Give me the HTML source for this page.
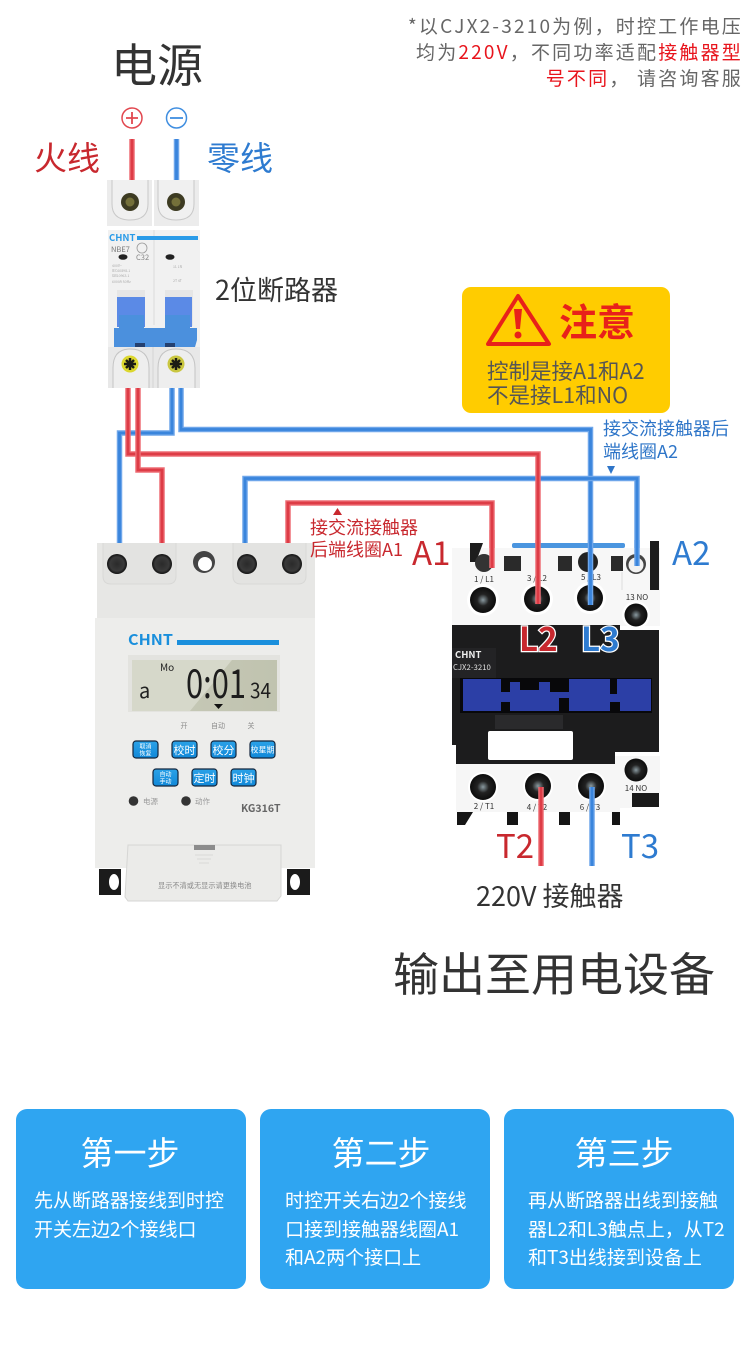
<!DOCTYPE html>
<html><head><meta charset="utf-8">
<style>
html,body{margin:0;padding:0;background:#fff;width:750px;height:1345px;overflow:hidden}
svg{display:block}
text{font-family:"Noto Sans CJK SC","Liberation Sans",sans-serif}
.w{fill:none;stroke-linejoin:miter}
.bo{stroke:#6ea6ea;stroke-width:5.500}
.bi{stroke:#3a85dc;stroke-width:2.800}
.ro{stroke:#ee6f76;stroke-width:5.500}
.ri{stroke:#dd3c46;stroke-width:2.800}
</style></head><body>
<svg width="750" height="1345" viewBox="0 0 750 1345" xmlns="http://www.w3.org/2000/svg">
<defs>
<radialGradient id="sc"><stop offset="0" stop-color="#2a2a2a"/><stop offset=".7" stop-color="#3a3a3a"/><stop offset="1" stop-color="#111"/></radialGradient>
<radialGradient id="cs"><stop offset="0" stop-color="#8a9aa0"/><stop offset=".45" stop-color="#222"/><stop offset="1" stop-color="#0c0c0c"/></radialGradient>
<linearGradient id="lcd" x1="0" y1="0" x2="1" y2="0"><stop offset="0" stop-color="#c8cab9"/><stop offset="1" stop-color="#c0c3af"/></linearGradient>
<linearGradient id="bn" x1="0" y1="0" x2="0" y2="1"><stop offset="0" stop-color="#2ba2e8"/><stop offset="1" stop-color="#1188d8"/></linearGradient>
</defs>

<!-- top note -->
<g font-size="19" fill="#666" text-anchor="end" letter-spacing="2.200">
<text x="743" y="33">*以CJX2-3210为例，时控工作电压</text>
<text x="743" y="59">均为<tspan fill="#e8141c">220V</tspan>，不同功率适配<tspan fill="#e8141c">接触器型</tspan></text>
<text x="743" y="85"><tspan fill="#e8141c">号不同</tspan>， 请咨询客服</text>
</g>

<!-- power labels -->
<text x="111" y="82" font-size="46" fill="#333">电源</text>
<text x="34" y="170" font-size="33" fill="#c8282e">火线</text>
<text x="207" y="170" font-size="33" fill="#2e7bd0">零线</text>
<circle cx="132" cy="118" r="10" fill="none" stroke="#e2474f" stroke-width="1.500"/>
<path d="M126 118h12M132 112v12" stroke="#e2474f" stroke-width="1.800"/>
<circle cx="176.500" cy="118" r="10" fill="none" stroke="#3f8ee0" stroke-width="1.500"/>
<path d="M170 118h13" stroke="#3f8ee0" stroke-width="1.800"/>
<path d="M132 139V182" class="w ro"/><path d="M132 139V182" class="w ri"/>
<path d="M176.500 139V182" class="w bo"/><path d="M176.500 139V182" class="w bi"/>

<!-- wires behind devices -->
<g>
<path d="M172 385V433H119.500V548" class="w bo"/><path d="M172 385V433H119.500V548" class="w bi"/>
<path d="M181 385V429.500H590.500V605" class="w bo"/><path d="M181 385V429.500H590.500V605" class="w bi"/>
<path d="M245 548V478.500H637V566" class="w bo"/><path d="M245 548V478.500H637V566" class="w bi"/>
<path d="M128 385V454H538V604" class="w ro"/><path d="M128 385V454H538V604" class="w ri"/>
<path d="M138 385V470H162V548" class="w ro"/><path d="M138 385V470H162V548" class="w ri"/>
<path d="M288 548V503H492V548" class="w ro"/><path d="M288 548V503H492V548" class="w ri"/>
</g>

<!-- breaker -->
<rect x="107" y="180" width="92" height="46" fill="#ececec"/>
<path d="M153 180V226" stroke="#fff" stroke-width="2"/>
<path d="M112 180V204Q112 220 130 220Q148 220 148 204V180M158 180V204Q158 220 176 220Q194 220 194 204V180" fill="#f0f0f0" stroke="#c8c8c8"/>
<circle cx="130" cy="202" r="9" fill="#3d3b22"/><circle cx="176" cy="202" r="9" fill="#3d3b22"/>
<circle cx="130" cy="202" r="4.500" fill="#74703a"/><circle cx="176" cy="202" r="4.500" fill="#74703a"/>
<rect x="108" y="230" width="92" height="118" fill="#f1f1f1"/>
<path d="M154 230V325" stroke="#dcdcdc"/>
<text x="109" y="241" font-size="9.500" font-weight="bold" fill="#2a9be8" font-family="Liberation Sans">CHNT</text>
<rect x="137" y="236" width="61" height="4" fill="#2a9be8"/>
<text x="111" y="252" font-size="7.500" fill="#777">NBE7</text>
<text x="136" y="260" font-size="7.500" fill="#888">C32</text>
<circle cx="142" cy="248" r="5" fill="none" stroke="#999" stroke-width=".8"/>
<ellipse cx="123" cy="257" rx="4.500" ry="2.800" fill="#222"/><ellipse cx="170" cy="257" rx="4.500" ry="2.800" fill="#222"/>
<g fill="#aaa" font-size="3.500"><text x="112" y="267">400V~</text><text x="112" y="272">IEC60898-1</text><text x="112" y="277">GB10963.1</text><text x="112" y="283">6000A 50Hz</text><text x="173" y="268">1L 1N</text><text x="173" y="282">2T 4T</text></g>
<rect x="117" y="290" width="28" height="36" fill="#e6e6e6"/><rect x="165" y="290" width="28" height="36" fill="#e6e6e6"/>
<rect x="117" y="297" width="28" height="30" fill="#5b8ae6"/><rect x="165" y="297" width="27" height="30" fill="#5b8ae6"/>
<path d="M114 347V328H119V315H144V328H165V315H190V328H197V340L195 347Z" fill="#4b90dd"/>
<rect x="135" y="343" width="10" height="5" fill="#24406f"/><rect x="165" y="343" width="10" height="5" fill="#24406f"/>
<rect x="108" y="347" width="92" height="41" fill="#e8e8e8"/>
<path d="M153 347V388" stroke="#d4d4d4"/>
<path d="M113 388V368Q113 349 130 349Q149 349 149 368V388M158 388V368Q158 349 176 349Q195 349 195 368V388" fill="#eeeeee" stroke="#c4c4c4"/>
<circle cx="130" cy="364" r="8.500" fill="#dcd72e"/><circle cx="176" cy="364" r="8.500" fill="#c9c640"/>
<path d="M124 364h12M130 358v12M126 360l8 8M134 360l-8 8" stroke="#1c1c14" stroke-width="2.500"/>
<path d="M170 364h12M176 358v12M172 360l8 8M180 360l-8 8" stroke="#1c1c14" stroke-width="2.500"/>
<text x="215" y="300" font-size="27" fill="#333">2位断路器</text>

<!-- warning -->
<rect x="462" y="287" width="208" height="126" rx="9" fill="#ffcc00"/>
<path d="M518 296L549 344H488Z" fill="none" stroke="#e8211a" stroke-width="4" stroke-linejoin="round"/>
<path d="M514 309h8l-2 20h-4Z" fill="#e8211a"/><circle cx="518" cy="335" r="3.500" fill="#e8211a"/>
<text x="559" y="336" font-size="38" font-weight="bold" fill="#e8211a">注意</text>
<g font-size="21.500" fill="#555"><text x="487" y="379">控制是接A1和A2</text><text x="487" y="403">不是接L1和NO</text></g>

<!-- timer -->
<path d="M99 869h22v26h-22zM287 869h23v26h-23z" fill="#1b1b1b"/>
<ellipse cx="114" cy="882" rx="5" ry="8" fill="#fff"/><ellipse cx="295" cy="882" rx="5" ry="8" fill="#fff"/>
<rect x="97" y="543" width="218" height="76" fill="#e7e7e5"/>
<rect x="95" y="618" width="220" height="250" fill="#ededeb"/>
<path d="M103 543V576Q103 584 111 584H168Q176 584 176 576V543M233 543V576Q233 584 241 584H298Q306 584 306 576V543" fill="#e3e3e1" stroke="#d8d8d6"/>
<circle cx="117" cy="564" r="10" fill="url(#sc)"/><circle cx="162" cy="564" r="10" fill="url(#sc)"/>
<circle cx="247" cy="564" r="10" fill="url(#sc)"/><circle cx="292" cy="564" r="10" fill="url(#sc)"/>
<circle cx="204" cy="562" r="11" fill="#444"/><circle cx="205" cy="564" r="7" fill="#fff"/>
<text x="128" y="645" font-size="15" font-weight="bold" fill="#1a8fdc" textLength="45" lengthAdjust="spacingAndGlyphs" font-family="Liberation Sans">CHNT</text>
<rect x="177" y="640" width="102" height="5" fill="#1a8fdc"/>
<rect x="128" y="655" width="152" height="57" fill="#e3e3df"/>
<rect x="132" y="660" width="145" height="51" fill="url(#lcd)"/>
<path d="M132 660H232L190 711H132Z" fill="#d6d8ca"/>
<text x="160" y="671" font-size="10" fill="#222">Mo</text>
<text x="139" y="698" font-size="20" fill="#222" font-family="Liberation Mono">a</text>
<text x="186" y="698" font-size="40" fill="#1d1d1d" font-family="Liberation Mono" textLength="60" lengthAdjust="spacingAndGlyphs">0:01</text>
<text x="250" y="698" font-size="21" fill="#1d1d1d" font-family="Liberation Mono" textLength="21" lengthAdjust="spacingAndGlyphs">34</text>
<path d="M214 704h9l-4.500 5Z" fill="#111"/>
<g font-size="7" fill="#8a8a8a" text-anchor="middle"><text x="184" y="728">开</text><text x="218" y="728">自动</text><text x="251" y="728">关</text></g>
<g fill="url(#bn)" stroke="#14263c" stroke-width="1.200">
<rect x="133" y="741" width="25" height="17" rx="3"/><rect x="172" y="741" width="25" height="17" rx="3"/><rect x="211" y="741" width="25" height="17" rx="3"/><rect x="250" y="741" width="25" height="17" rx="3"/>
<rect x="153" y="769" width="25" height="17" rx="3"/><rect x="192" y="769" width="25" height="17" rx="3"/><rect x="231" y="769" width="25" height="17" rx="3"/>
</g>
<g fill="#fff" text-anchor="middle" font-size="11">
<text x="184.500" y="754">校时</text><text x="223.500" y="754">校分</text><text x="262.500" y="752.500" font-size="8">校星期</text>
<text x="204.500" y="782">定时</text><text x="243.500" y="782">时钟</text>
<text x="145.500" y="748.500" font-size="6">取消</text><text x="145.500" y="755.500" font-size="6">恢复</text>
<text x="165.500" y="776.500" font-size="6">自动</text><text x="165.500" y="783.500" font-size="6">手动</text>
</g>
<circle cx="133.500" cy="801" r="4.800" fill="#333"/><circle cx="186" cy="801" r="4.800" fill="#333"/>
<g font-size="7.500" fill="#999"><text x="143" y="804">电源</text><text x="195" y="804">动作</text></g>
<text x="241" y="812" font-size="10.500" font-weight="bold" fill="#666" font-family="Liberation Sans">KG316T</text>
<path d="M128 845H281V896L277 901H128L125 897Z" fill="#ebebe9" stroke="#d6d6d4"/>
<rect x="194" y="845" width="21" height="5" fill="#8c8c8c"/>
<path d="M195 855h18M197 859h14M199 863h10" stroke="#d8d8d6"/>
<text x="158" y="888" font-size="7.200" fill="#8a8a8a">显示不清或无显示请更换电池</text>

<!-- annotations (over the timer) -->
<g font-size="18" fill="#2e75c8"><text x="603" y="435">接交流接触器后</text><text x="603" y="458">端线圈A2</text></g>
<path d="M607 466h8l-4 8Z" fill="#2e75c8"/>
<g font-size="18" fill="#c8282e"><text x="310" y="534">接交流接触器</text><text x="310" y="556">后端线圈A1</text></g>
<path d="M333 515h9l-4.500-7Z" fill="#c8282e"/>
<text x="412" y="565" font-size="33" fill="#c8282e">A1</text>
<text x="672" y="565" font-size="33" fill="#2e7bd0">A2</text>

<!-- contactor -->
<rect x="512" y="543" width="113" height="5" rx="2" fill="#4a95df"/>
<rect x="452" y="548" width="208" height="78" fill="#f7f7f7"/>
<path d="M470 543H483L476 562H470Z" fill="#1d1d1d"/>
<path d="M650 541H659V590H650Z" fill="#1d1d1d"/>
<rect x="504" y="556" width="17" height="15" fill="#2a2a2a"/><rect x="558" y="556" width="14" height="15" fill="#2a2a2a"/><rect x="611" y="556" width="12" height="15" fill="#2a2a2a"/>
<circle cx="484" cy="563" r="9" fill="#333"/><circle cx="588" cy="562" r="10" fill="#222"/><circle cx="636" cy="564" r="10" fill="#444"/><circle cx="636" cy="565" r="7.500" fill="#f2f2f2"/>
<path d="M622 572V590" stroke="#ddd"/>
<g font-size="8" fill="#333" text-anchor="middle">
<text x="484" y="582">1 / L1</text><text x="537" y="581">3 / L2</text><text x="591" y="580">5 / L3</text><text x="637" y="600" font-size="8">13 NO</text></g>
<circle cx="483" cy="600" r="16" fill="#fff"/><circle cx="537" cy="599" r="16" fill="#fff"/><circle cx="590" cy="598" r="16" fill="#fff"/><circle cx="636" cy="615" r="14" fill="#fff"/>
<circle cx="483" cy="600" r="13" fill="url(#cs)"/><circle cx="537" cy="599" r="13" fill="url(#cs)"/><circle cx="590" cy="598" r="13" fill="url(#cs)"/><circle cx="636" cy="615" r="11.500" fill="url(#cs)"/>
<path d="M452 625H620V630H659V752H615V765H456V745H452Z" fill="#1c1c1d"/>
<rect x="452" y="648" width="44" height="30" fill="#232325"/>
<rect x="460" y="678" width="192" height="35" fill="#08080a"/>
<rect x="463" y="679" width="38" height="32" fill="#2c3fa6"/>
<path d="M500 692H510V682H520V690H539V682H550V692H569V679H610V694H617V679H651V711H620V702H610V711H569V698H559V711H510V702H500Z" fill="#2c3fa6"/>
<rect x="495" y="715" width="68" height="14" fill="#2a2a2c"/>
<rect x="488" y="731" width="85" height="29" rx="2" fill="#fff"/>
<text x="455" y="658" font-size="9.500" font-weight="bold" fill="#eee" font-family="Liberation Sans">CHNT</text>
<text x="453" y="670" font-size="7.800" fill="#ddd" font-family="Liberation Sans">CJX2-3210</text>
<path d="M456 764H615V756H660V793H632V808H620V812H456Z" fill="#f6f6f6"/>
<path d="M457 812H473L465 825H457ZM507 812H518V825H507ZM559 812H570V825H559ZM612 812H620V825H612Z" fill="#151515"/>
<rect x="632" y="793" width="27" height="14" fill="#1a1a1a"/>
<circle cx="483" cy="787" r="15" fill="#fff"/><circle cx="538" cy="786" r="15" fill="#fff"/><circle cx="591" cy="786" r="15" fill="#fff"/>
<circle cx="483" cy="787" r="13" fill="url(#cs)"/><circle cx="538" cy="786" r="13" fill="url(#cs)"/><circle cx="591" cy="786" r="13" fill="url(#cs)"/><circle cx="636" cy="770" r="11.500" fill="url(#cs)"/>
<g font-size="8" fill="#333" text-anchor="middle"><text x="484" y="809">2 / T1</text><text x="537" y="810">4 / T2</text><text x="590" y="810">6 / T3</text><text x="636" y="791">14 NO</text></g>
<!-- wires over contactor -->
<g>
<path d="M590.500 540V605" class="w bo"/><path d="M590.500 540V605" class="w bi"/>
<path d="M637 540V566" class="w bo"/><path d="M637 540V566" class="w bi"/>
<path d="M538 540V604" class="w ro"/><path d="M538 540V604" class="w ri"/>
<path d="M492 530V568" class="w ro"/><path d="M492 530V568" class="w ri"/>
<path d="M541 787V866" class="w ro"/><path d="M541 787V866" class="w ri"/>
<path d="M592 787V866" class="w bo"/><path d="M592 787V866" class="w bi"/>
</g>
<g font-size="33" font-weight="bold" paint-order="stroke" stroke="#fff" stroke-width="2.500">
<text x="519" y="651" fill="#c8282e">L2</text><text x="581" y="651" fill="#2e7bd0">L3</text></g>
<text x="496" y="858" font-size="33" fill="#c8282e">T2</text>
<text x="621" y="858" font-size="33" fill="#2e7bd0">T3</text>
<text x="476" y="906" font-size="27" fill="#333">220V 接触器</text>

<text x="393" y="991" font-size="46" fill="#333">输出至用电设备</text>

<!-- cards -->
<rect x="16" y="1109" width="230" height="180" rx="11" fill="#2fa5f1"/>
<rect x="260" y="1109" width="230" height="180" rx="11" fill="#2fa5f1"/>
<rect x="504" y="1109" width="230" height="180" rx="11" fill="#2fa5f1"/>
<g fill="#fff" font-size="33" text-anchor="middle">
<text x="130" y="1165">第一步</text><text x="381" y="1165">第二步</text><text x="624" y="1165">第三步</text></g>
<g fill="#fff" font-size="19">
<text x="34" y="1207">先从断路器接线到时控</text><text x="34" y="1236">开关左边2个接线口</text>
<text x="285" y="1207">时控开关右边2个接线</text><text x="285" y="1236">口接到接触器线圈A1</text><text x="285" y="1264">和A2两个接口上</text>
<text x="528" y="1207">再从断路器出线到接触</text><text x="528" y="1236">器L2和L3触点上，从T2</text><text x="528" y="1264">和T3出线接到设备上</text>
</g>
</svg>
</body></html>
